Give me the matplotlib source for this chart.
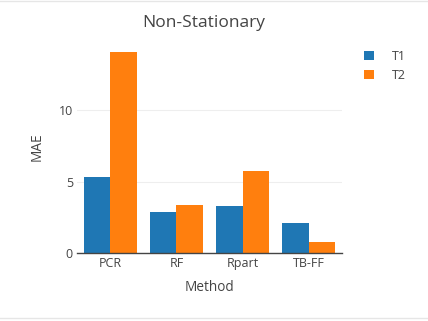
import numpy as np
import matplotlib.pyplot as plt

methods = ["PCR", "RF", "Rpart", "TB-FF"]
t1 = [5.31, 2.89, 3.26, 2.07]
t2 = [14.1, 3.33, 5.73, 0.74]
yticks = [0, 5, 10]

plt.rcParams["font.family"] = ["Open Sans", "DejaVu Sans"]
txt = "#444444"

fig = plt.figure(figsize=(4.28, 3.21), dpi=100)
ax = fig.add_axes([0.18, 0.212, 0.619, 0.66])

x = np.arange(len(methods))
w = 0.4
ax.bar(x - w / 2, t1, width=w, color="#1f77b4", label="T1", zorder=2)
ax.bar(x + w / 2, t2, width=w, color="#ff7f0e", label="T2", zorder=2)

ax.set_xlim(-0.5, len(methods) - 0.5)
ax.set_ylim(0, max(t2) * 1.053)
ax.set_xticks(x)
ax.set_xticklabels(methods)
ax.set_yticks(yticks)
ax.tick_params(length=0, labelsize=9, colors=txt, pad=3)
ax.yaxis.grid(True, color="#eeeeee", linewidth=0.8, zorder=0)
for s in ["top", "right", "left"]:
    ax.spines[s].set_visible(False)
ax.spines["bottom"].set_color(txt)
ax.spines["bottom"].set_linewidth(1)
ax.spines["bottom"].set_zorder(3)

ax.set_xlabel("Method", fontsize=9.8, color=txt, labelpad=7)
ax.set_ylabel("MAE", fontsize=9.8, color=txt, labelpad=10)
fig.text(0.477, 0.928, "Non-Stationary", fontsize=12.5, color=txt, ha="center", va="center")

leg = fig.legend(loc="upper left", bbox_to_anchor=(0.825, 0.88), frameon=False,
                 fontsize=9, handlelength=0.8, handleheight=0.8,
                 handletextpad=1.4, labelspacing=0.5)
for t in leg.get_texts():
    t.set_color(txt)

fig.add_artist(plt.Line2D([0, 1], [0.997, 0.997], color="#e6e6e6", linewidth=1))
fig.add_artist(plt.Line2D([0, 1], [0.01, 0.01], color="#e6e6e6", linewidth=1))

fig.savefig("out.png", dpi=100)
